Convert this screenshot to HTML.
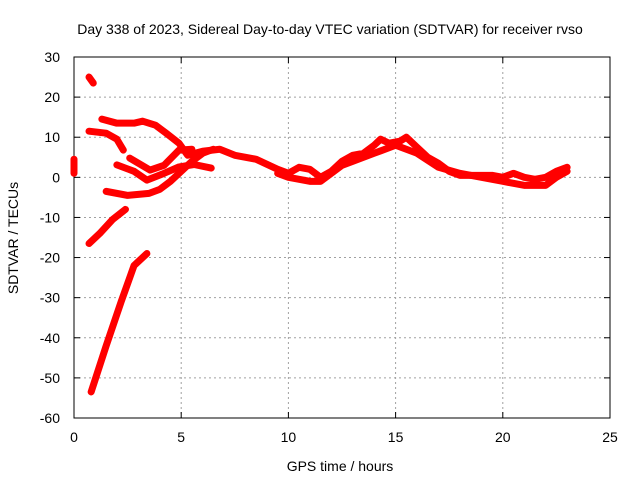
<!DOCTYPE html>
<html><head><meta charset="utf-8"><style>
body{margin:0;background:#fff}
svg text{font-family:"Liberation Sans",sans-serif;font-size:14px;fill:#000}
</style></head><body>
<svg width="640" height="480">
<rect width="640" height="480" fill="#fff"/>
<g id="grid"></g>
<g id="axes"></g>
<g id="series"></g>
<text x="330" y="34" text-anchor="middle">Day 338 of 2023, Sidereal Day-to-day VTEC variation (SDTVAR) for receiver rvso</text>
<text x="340" y="471" text-anchor="middle">GPS time / hours</text>
<text transform="translate(18,238) rotate(-90)" text-anchor="middle">SDTVAR / TECUs</text>
</svg>
<script>
const xTicks=[0,5,10,15,20,25];
const yTicks=[30,20,10,0,-10,-20,-30,-40,-50,-60];
const trackA=[[0.7,25],[0.9,23.5]];
const trackB=[[0.8,-53.5],[1.5,-42],[2.2,-31],[2.8,-22],[3.4,-19]];
const trackC=[[0.7,-16.5],[1.2,-14],[1.8,-10.5],[2.4,-8]];
const trackD=[[1.3,14.5],[2,13.5],[2.8,13.5],[3.2,14],[3.8,13],[4.3,11],[4.9,8.5],[5.3,5.5],[6,6.5],[6.8,7],[7.5,5.5],[8.5,4.5],[9.5,2],[10,1],[10.5,2.5],[11,2],[11.5,0],[12,1.5],[12.5,4],[13,5.5],[13.5,6],[14,8],[14.3,9.5],[14.7,8.5],[15.2,9],[15.5,10],[16,7.5],[16.5,5],[17,3.5],[17.5,1.5],[18,0.5],[19,0.5],[19.5,0.5],[20,0],[20.5,1],[21,0],[21.5,-0.5],[22,0],[22.5,1.5],[23,2.5]];
const trackE=[[0.7,11.5],[1.5,11],[2.0,9.5],[2.3,6.8]];
const trackF=[[2.6,4.8],[3.55,1.8],[4.2,3],[4.9,6.8],[5.5,7]];
const trackG=[[2.0,3.1],[2.8,1.5],[3.4,-0.7],[4.2,1],[4.9,2.6],[5.6,3.2],[6.4,2.3]];
const trackH=[[1.5,-3.5],[2.5,-4.5],[3.5,-4],[4,-3],[4.5,-1],[5,1.5],[5.5,4],[6,6],[6.5,7]];
const trackI=[[9.5,1],[10,0],[11,-1],[11.5,-1],[12,1],[12.5,3],[13,4],[14,6],[15,8],[16,6],[17,2.5],[18,1],[19,0],[20,-1],[21,-2],[22,-2],[22.5,0],[23,1.5]];
const trackJ=[[0,4.5],[0,1]];
const tracks=[trackA,trackB,trackC,trackD,trackE,trackF,trackG,trackH,trackI,trackJ];
const X0=74,X1=610,Y0=418,Y1=57;
const sx=v=>X0+(v-0)/(25-0)*(X1-X0);
const sy=v=>Y0-(v+60)/(90)*(Y0-Y1);
const NS="http://www.w3.org/2000/svg";
const g=document.getElementById('grid'),a=document.getElementById('axes'),s=document.getElementById('series');
function mk(t,at,p){const e=document.createElementNS(NS,t);for(const k in at)e.setAttribute(k,at[k]);p.appendChild(e);return e;}
xTicks.forEach(v=>{const x=sx(v);
 if(v>0&&v<25){const l=mk('line',{x1:x,x2:x,y1:Y1,y2:Y0,stroke:'#a0a0a0','stroke-dasharray':'2,3'},g);
 }
 mk('line',{x1:x,x2:x,y1:Y0,y2:Y0-6,stroke:'#000'},a);mk('line',{x1:x,x2:x,y1:Y1,y2:Y1+6,stroke:'#000'},a);
 const t=mk('text',{x:x,y:Y0+24,'text-anchor':'middle'},a);t.textContent=v;
 });
yTicks.forEach(v=>{const y=sy(v);
 if(v>-60&&v<30){const l=mk('line',{x1:X0,x2:X1,y1:y,y2:y,stroke:'#a0a0a0','stroke-dasharray':'2,3'},g);
 }
 mk('line',{x1:X0,x2:X0+6,y1:y,y2:y,stroke:'#000'},a);mk('line',{x1:X1,x2:X1-6,y1:y,y2:y,stroke:'#000'},a);
 const t=mk('text',{x:X0-14,y:y+5,'text-anchor':'end'},a);t.textContent=v;
 });
const fr=mk('rect',{x:X0,y:Y1,width:X1-X0,height:Y0-Y1,fill:'none',stroke:'#000'},a);

tracks.forEach(tr=>{const p=mk('polyline',{points:tr.map(d=>sx(d[0])+','+sy(d[1])).join(' '),fill:'none',stroke:'#f00','stroke-width':7,'stroke-linejoin':'round','stroke-linecap':'round'},s);
 });
</script>
</body></html>
